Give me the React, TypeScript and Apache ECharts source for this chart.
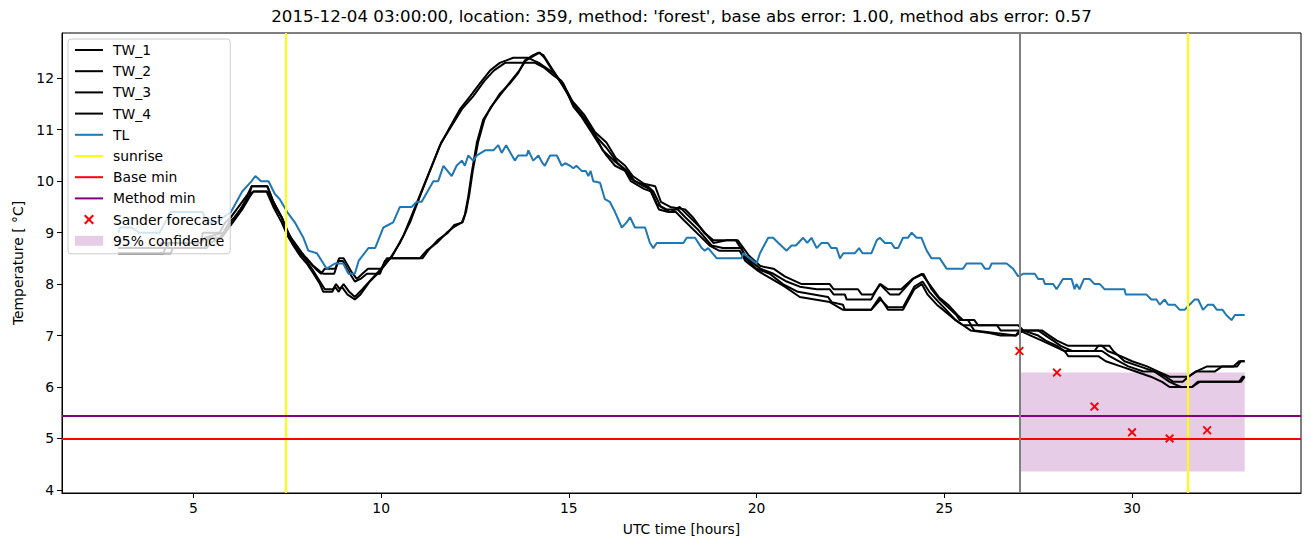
import React, { useEffect, useRef } from "react";
import * as echarts from "echarts";

const chartTitle =
  "2015-12-04 03:00:00, location: 359, method: 'forest', base abs error: 1.00, method abs error: 0.57";
const xTicks = [5, 10, 15, 20, 25, 30];
const yTicks = [4, 5, 6, 7, 8, 9, 10, 11, 12];

// [hour, temperature]
const tw1 = [
  [3.0, 8.6], [4.4, 8.6], [4.45, 8.7], [5.3, 8.7], [5.4, 8.9], [5.7, 8.9], [5.9, 9.1], [6.0, 9.2],
  [6.25, 9.45], [6.45, 9.7], [6.6, 9.8], [6.95, 9.8], [7.13, 9.5], [7.35, 9.2], [7.5, 8.95],
  [7.66, 8.75], [7.84, 8.55], [8.02, 8.4], [8.2, 8.2], [8.37, 8.0], [8.46, 7.85], [8.7, 7.85],
  [8.77, 7.95], [8.87, 7.85], [8.95, 7.95], [9.1, 7.8], [9.3, 7.7], [9.45, 7.8], [9.7, 8.05],
  [9.97, 8.25], [10.24, 8.5], [10.5, 8.8], [10.77, 9.2], [11.03, 9.7], [11.3, 10.2], [11.57, 10.7],
  [11.83, 11.05], [12.1, 11.4], [12.37, 11.65], [12.63, 11.9], [12.9, 12.15], [13.16, 12.3],
  [13.52, 12.4], [13.9, 12.4], [14.2, 12.3], [14.4, 12.2], [14.6, 12.1], [14.85, 11.9], [15.1, 11.5],
  [15.45, 11.2], [15.75, 10.85], [16.0, 10.65], [16.3, 10.35], [16.55, 10.2], [16.75, 10.0],
  [17.1, 9.9], [17.25, 9.8], [17.45, 9.5], [17.7, 9.4], [17.95, 9.5], [18.15, 9.35], [18.5, 9.1],
  [18.85, 8.8], [19.2, 8.85], [19.45, 8.85], [19.75, 8.5], [20.1, 8.3], [20.45, 8.2], [20.8, 8.05],
  [21.15, 7.95], [21.6, 7.9], [21.95, 7.9], [22.05, 7.8], [22.35, 7.8], [22.4, 7.7], [23.05, 7.7],
  [23.28, 8.0], [23.55, 7.8], [23.8, 7.8], [24.17, 8.1], [24.44, 8.2], [24.66, 7.9], [24.88, 7.7],
  [25.1, 7.55], [25.32, 7.4], [25.41, 7.3], [25.63, 7.3], [25.72, 7.2], [26.97, 7.2], [27.1, 7.1],
  [27.6, 7.1], [27.8, 7.0], [28.0, 6.9], [28.3, 6.8], [29.2, 6.8], [29.35, 6.7], [29.7, 6.6],
  [30.0, 6.5], [30.4, 6.4], [30.7, 6.3], [31.0, 6.2], [31.5, 6.2], [31.7, 6.3], [32.0, 6.4],
  [32.7, 6.4], [32.85, 6.5], [33.0, 6.5],
];
const tw2 = [
  [3.0, 8.7], [4.1, 8.7], [4.15, 8.8], [5.2, 8.8], [5.25, 9.0], [5.7, 9.0], [5.85, 9.2], [6.0, 9.3],
  [6.25, 9.55], [6.45, 9.75], [6.55, 9.9], [6.97, 9.9], [7.13, 9.6], [7.35, 9.3], [7.5, 9.0],
  [7.66, 8.8], [7.84, 8.6], [8.02, 8.45], [8.2, 8.25], [8.37, 8.05], [8.5, 7.9], [8.72, 7.9],
  [8.8, 8.0], [8.9, 7.9], [9.0, 8.0], [9.15, 7.85], [9.3, 7.75], [9.5, 7.9], [9.75, 8.1], [10.0, 8.3],
  [10.3, 8.55], [10.6, 8.95], [10.85, 9.4], [11.1, 9.85], [11.35, 10.3], [11.6, 10.75], [11.9, 11.1],
  [12.15, 11.4], [12.45, 11.65], [12.75, 11.95], [13.0, 12.15], [13.3, 12.3], [14.1, 12.3],
  [14.35, 12.2], [14.6, 12.05], [14.8, 11.95], [15.1, 11.55], [15.4, 11.3], [15.7, 10.95],
  [16.0, 10.75], [16.25, 10.45], [16.5, 10.3], [16.7, 10.1], [17.0, 9.95], [17.3, 9.9], [17.45, 9.6],
  [17.7, 9.5], [18.1, 9.45], [18.3, 9.3], [18.6, 9.0], [18.85, 8.85], [19.5, 8.85], [19.8, 8.55],
  [20.1, 8.35], [20.45, 8.3], [20.75, 8.15], [21.2, 8.0], [21.95, 8.0], [22.05, 7.9], [22.7, 7.9],
  [22.8, 7.8], [23.1, 7.8], [23.3, 8.0], [23.5, 7.9], [23.85, 7.9], [24.15, 8.1], [24.4, 8.2],
  [24.6, 8.0], [24.85, 7.75], [25.1, 7.6], [25.35, 7.4], [25.5, 7.3], [25.8, 7.3], [25.9, 7.2],
  [26.4, 7.2], [26.5, 7.1], [27.5, 7.1], [27.7, 7.0], [27.9, 6.9], [28.1, 6.8], [28.4, 6.7],
  [29.0, 6.7], [29.1, 6.8], [29.4, 6.8], [29.5, 6.7], [29.8, 6.5], [30.2, 6.4], [30.6, 6.3],
  [30.9, 6.2], [31.1, 6.1], [31.35, 6.1], [31.5, 6.2], [31.7, 6.3], [32.2, 6.3], [32.4, 6.4],
  [32.8, 6.4], [32.9, 6.5], [33.0, 6.5],
];
const tw3 = [
  [3.0, 8.6], [4.2, 8.6], [4.25, 8.7], [5.35, 8.7], [5.45, 8.8], [5.75, 8.9], [5.95, 9.1], [6.05, 9.2],
  [6.3, 9.45], [6.5, 9.7], [6.6, 9.8], [6.97, 9.8], [7.13, 9.55], [7.35, 9.3], [7.5, 9.05],
  [7.66, 8.8], [7.84, 8.6], [8.02, 8.5], [8.2, 8.35], [8.37, 8.25], [8.46, 8.2], [8.75, 8.2],
  [8.86, 8.45], [8.98, 8.45], [9.17, 8.2], [9.3, 8.05], [9.45, 8.1], [9.62, 8.2], [9.97, 8.2],
  [10.1, 8.45], [10.24, 8.5], [11.03, 8.5], [11.21, 8.65], [11.48, 8.8], [11.75, 9.0], [11.92, 9.1],
  [12.15, 9.2], [12.23, 9.35], [12.32, 9.7], [12.41, 10.15], [12.55, 10.75], [12.72, 11.2],
  [12.9, 11.4], [13.16, 11.7], [13.43, 11.9], [13.65, 12.1], [13.83, 12.35], [14.05, 12.45],
  [14.19, 12.5], [14.32, 12.45], [14.54, 12.2], [14.76, 11.95], [14.94, 11.75], [15.12, 11.45],
  [15.34, 11.25], [15.56, 11.0], [15.78, 10.75], [16.0, 10.5], [16.23, 10.3], [16.5, 10.2],
  [16.65, 10.0], [17.0, 9.85], [17.2, 9.8], [17.35, 9.55], [17.6, 9.45], [17.9, 9.45], [18.1, 9.3],
  [18.45, 9.05], [18.8, 8.75], [19.1, 8.7], [19.6, 8.7], [19.7, 8.5], [20.0, 8.3], [20.35, 8.2],
  [20.7, 8.0], [21.1, 7.85], [21.9, 7.75], [22.0, 7.65], [22.3, 7.6], [22.35, 7.5], [23.05, 7.5],
  [23.28, 7.75], [23.5, 7.5], [23.9, 7.5], [24.2, 7.9], [24.4, 8.0], [24.55, 7.8], [24.8, 7.6],
  [25.05, 7.45], [25.3, 7.3], [25.5, 7.2], [25.7, 7.2], [25.8, 7.1], [26.9, 7.0], [27.1, 7.1],
  [27.5, 7.0], [27.7, 6.9], [28.0, 6.8], [28.2, 6.7], [29.2, 6.7], [29.4, 6.6], [29.9, 6.4],
  [30.3, 6.3], [30.6, 6.3], [30.8, 6.2], [31.0, 6.1], [31.3, 6.0], [31.6, 6.0], [31.75, 6.1],
  [32.9, 6.1], [33.0, 6.2],
];
const tw4 = [
  [3.0, 8.7], [4.3, 8.7], [4.35, 8.8], [5.2, 8.8], [5.3, 8.9], [5.8, 9.0], [5.95, 9.2], [6.1, 9.3],
  [6.3, 9.5], [6.5, 9.75], [6.55, 9.9], [6.97, 9.9], [7.13, 9.6], [7.35, 9.3], [7.5, 9.0], [7.7, 8.8],
  [7.9, 8.6], [8.06, 8.45], [8.25, 8.3], [8.4, 8.2], [8.5, 8.3], [8.78, 8.3], [8.88, 8.5], [9.0, 8.5],
  [9.2, 8.25], [9.35, 8.1], [9.5, 8.2], [9.65, 8.3], [10.0, 8.3], [10.15, 8.5], [11.1, 8.5],
  [11.25, 8.65], [11.5, 8.85], [11.78, 9.0], [11.95, 9.15], [12.17, 9.2], [12.26, 9.4], [12.35, 9.75],
  [12.44, 10.2], [12.58, 10.75], [12.75, 11.2], [12.93, 11.45], [13.2, 11.7], [13.46, 11.95],
  [13.68, 12.15], [13.86, 12.35], [14.1, 12.45], [14.22, 12.5], [14.35, 12.4], [14.56, 12.15],
  [14.8, 11.9], [15.0, 11.65], [15.2, 11.4], [15.45, 11.15], [15.7, 10.9], [15.9, 10.6], [16.2, 10.4],
  [16.45, 10.25], [16.65, 10.05], [17.0, 9.9], [17.15, 9.85], [17.4, 9.45], [17.65, 9.4],
  [17.85, 9.4], [18.05, 9.25], [18.4, 9.0], [18.75, 8.75], [19.0, 8.65], [19.55, 8.65], [19.7, 8.45],
  [20.05, 8.25], [20.4, 8.1], [20.75, 7.95], [21.15, 7.75], [21.95, 7.65], [22.3, 7.5], [23.05, 7.5],
  [23.3, 7.7], [23.5, 7.55], [23.9, 7.55], [24.2, 7.95], [24.42, 8.05], [24.6, 7.85], [24.85, 7.65],
  [25.05, 7.5], [25.3, 7.3], [25.5, 7.2], [25.7, 7.1], [26.2, 7.05], [26.5, 7.0], [26.9, 7.0],
  [27.0, 7.1], [27.3, 7.0], [27.6, 6.9], [27.9, 6.8], [28.2, 6.7], [28.3, 6.6], [29.1, 6.6],
  [29.3, 6.5], [29.7, 6.4], [30.1, 6.3], [30.5, 6.2], [30.8, 6.1], [31.0, 6.0], [31.6, 6.0],
  [31.8, 6.1], [32.85, 6.1], [32.95, 6.2], [33.0, 6.2],
];
const tl = [
  [3.0, 9.0], [3.05, 9.1], [3.35, 9.1], [3.55, 9.0], [4.1, 9.0], [4.4, 9.4], [5.25, 9.4], [5.35, 9.2],
  [5.6, 9.2], [6.0, 9.4], [6.3, 9.8], [6.55, 10.0], [6.65, 10.1], [6.8, 10.0], [7.0, 10.0],
  [7.17, 9.75], [7.3, 9.65], [7.5, 9.4], [7.7, 9.2], [7.93, 8.9], [8.06, 8.65], [8.29, 8.6],
  [8.55, 8.3], [8.77, 8.4], [8.99, 8.4], [9.13, 8.2], [9.3, 8.2], [9.4, 8.45], [9.66, 8.7],
  [9.84, 8.7], [10.06, 9.1], [10.32, 9.2], [10.5, 9.5], [10.81, 9.5], [10.95, 9.6], [11.08, 9.6],
  [11.39, 10.0], [11.52, 10.0], [11.66, 10.3], [11.88, 10.1], [12.01, 10.3], [12.15, 10.4],
  [12.23, 10.3], [12.32, 10.5], [12.45, 10.4], [12.55, 10.5], [12.77, 10.6], [12.99, 10.6],
  [13.12, 10.7], [13.21, 10.55], [13.33, 10.7], [13.56, 10.4], [13.65, 10.5], [13.88, 10.5],
  [13.92, 10.6], [14.05, 10.4], [14.19, 10.5], [14.3, 10.35], [14.36, 10.3], [14.5, 10.5],
  [14.68, 10.5], [14.81, 10.3], [14.9, 10.35], [15.03, 10.3], [15.12, 10.25], [15.2, 10.3],
  [15.34, 10.2], [15.45, 10.2], [15.52, 10.1], [15.58, 10.2], [15.65, 10.0], [15.83, 9.97],
  [15.96, 9.65], [16.09, 9.6], [16.23, 9.4], [16.41, 9.1], [16.54, 9.2], [16.63, 9.3], [16.76, 9.1],
  [17.03, 9.1], [17.16, 8.8], [17.25, 8.7], [17.34, 8.8], [18.05, 8.8], [18.14, 8.9], [18.36, 8.9],
  [18.54, 8.7], [18.62, 8.65], [18.71, 8.7], [18.94, 8.5], [19.6, 8.5], [19.64, 8.6], [19.82, 8.5],
  [20.0, 8.4], [20.09, 8.6], [20.31, 8.9], [20.44, 8.9], [20.58, 8.8], [20.8, 8.65], [20.93, 8.75],
  [21.05, 8.75], [21.24, 8.9], [21.35, 8.8], [21.46, 8.9], [21.6, 8.7], [21.73, 8.8], [21.9, 8.8],
  [21.99, 8.7], [22.13, 8.7], [22.22, 8.5], [22.31, 8.6], [22.62, 8.6], [22.73, 8.7], [22.82, 8.6],
  [23.06, 8.6], [23.2, 8.85], [23.28, 8.9], [23.42, 8.8], [23.59, 8.8], [23.68, 8.7], [23.77, 8.7],
  [23.9, 8.9], [24.03, 8.9], [24.13, 9.0], [24.26, 8.9], [24.39, 8.9], [24.53, 8.65], [24.66, 8.5],
  [24.88, 8.5], [25.06, 8.3], [25.5, 8.3], [25.59, 8.4], [25.99, 8.4], [26.08, 8.3], [26.2, 8.3],
  [26.26, 8.4], [26.66, 8.4], [26.83, 8.3], [26.97, 8.15], [27.1, 8.2], [27.41, 8.2], [27.5, 8.1],
  [27.63, 8.1], [27.68, 8.0], [27.9, 8.0], [27.99, 7.9], [28.16, 8.1], [28.39, 8.1], [28.47, 7.9],
  [28.52, 8.0], [28.6, 7.9], [28.72, 8.1], [28.87, 8.1], [29.0, 8.0], [29.14, 8.0], [29.27, 7.9],
  [29.8, 7.9], [29.83, 7.8], [30.38, 7.8], [30.51, 7.7], [30.65, 7.7], [30.74, 7.6], [30.87, 7.7],
  [30.96, 7.6], [31.14, 7.6], [31.27, 7.5], [31.4, 7.5], [31.53, 7.6], [31.67, 7.7], [31.76, 7.7],
  [31.89, 7.5], [32.02, 7.6], [32.16, 7.6], [32.26, 7.5], [32.41, 7.5], [32.51, 7.4], [32.65, 7.3],
  [32.74, 7.4], [33.0, 7.4],
];

const sunriseHours = [7.47, 31.48];
const forecastStartHour = 27;
const baseMin = 5.0;
const methodMin = 5.45;
const sanderHours = [27, 28, 29, 30, 31, 32];
const sanderTemps = [6.7, 6.28, 5.62, 5.12, 5.0, 5.16];
const confidenceHours = [27, 33];
const confidenceTemps = [4.36, 6.28];

const FONT = "DejaVu Sans";
const FS = 13.89;
const X_PATH =
  "path://M0,1.5L1.5,0L5,3.5L8.5,0L10,1.5L6.5,5L10,8.5L8.5,10L5,6.5L1.5,10L0,8.5L3.5,5Z";

function lineSeries(name: string, data: number[][], color: string) {
  return {
    name,
    type: "line",
    data,
    symbol: "none",
    showSymbol: false,
    lineStyle: { color, width: 2 },
    itemStyle: { color },
    z: 3,
  };
}

function markSeries(name: string, color: string, lines: any[]) {
  return {
    name,
    type: "line",
    data: [],
    symbol: "none",
    lineStyle: { color, width: 2 },
    itemStyle: { color },
    z: 4,
    markLine: {
      silent: true,
      symbol: "none",
      label: { show: false },
      lineStyle: { color, width: 2, type: "solid" },
      emphasis: { disabled: true },
      data: lines,
    },
  };
}

export default function App() {
  const ref = useRef<HTMLDivElement>(null);
  useEffect(() => {
    document.body.style.margin = "0";
    const chart = echarts.init(ref.current!, null, { renderer: "svg" });
    const lineLegendNames = [
      "TW_1", "TW_2", "TW_3", "TW_4", "TL", "sunrise", "Base min", "Method min",
    ];
    chart.setOption({
      animation: false,
      textStyle: { fontFamily: FONT },
      title: {
        text: chartTitle,
        left: 681.5,
        top: 8,
        padding: 0,
        textAlign: "center",
        textStyle: { fontFamily: FONT, fontSize: 16.67, fontWeight: "normal", color: "#000" },
      },
      grid: {
        left: 62,
        right: 10,
        top: 33,
        bottom: 54,
        show: true,
        borderColor: "#000",
        borderWidth: 1,
      },
      legend: {
        left: 68,
        top: 39,
        orient: "vertical",
        itemWidth: 28,
        itemHeight: 10,
        itemGap: 5.2,
        padding: [3, 6, 5, 6],
        backgroundColor: "rgba(255,255,255,0.8)",
        borderColor: "#cccccc",
        borderWidth: 1,
        borderRadius: 3,
        selectedMode: false,
        itemStyle: { opacity: 0 },
        textStyle: {
          fontFamily: FONT,
          fontSize: FS,
          color: "#000",
          lineHeight: 16,
          padding: [0, 0, 0, 5],
        },
        data: [
          ...lineLegendNames.map((n) => ({ name: n })),
          { name: "Sander forecast", itemStyle: { opacity: 1 } },
          { name: "95% confidence", icon: "rect", itemStyle: { opacity: 1 } },
        ],
      },
      xAxis: {
        type: "value",
        min: 1.5,
        max: 34.5,
        name: "UTC time [hours]",
        nameLocation: "middle",
        nameGap: 29,
        nameTextStyle: { fontFamily: FONT, fontSize: FS, color: "#000" },
        splitLine: { show: false },
        axisLine: { show: true, onZero: false, lineStyle: { color: "#000", width: 1 } },
        axisTick: { show: true, length: 5, lineStyle: { color: "#000" }, customValues: xTicks },
        axisLabel: { customValues: xTicks, color: "#000", fontSize: FS, fontFamily: FONT, margin: 8 },
      },
      yAxis: {
        type: "value",
        min: 3.94,
        max: 12.88,
        name: "Temperature [ °C]",
        nameLocation: "middle",
        nameGap: 37,
        nameRotate: 90,
        nameTextStyle: { fontFamily: FONT, fontSize: FS, color: "#000" },
        splitLine: { show: false },
        axisLine: { show: true, onZero: false, lineStyle: { color: "#000", width: 1 } },
        axisTick: { show: true, length: 5, lineStyle: { color: "#000" }, customValues: yTicks },
        axisLabel: { customValues: yTicks, color: "#000", fontSize: FS, fontFamily: FONT, margin: 8 },
      },
      series: [
        {
          name: "95% confidence",
          type: "custom",
          z: 1,
          itemStyle: { color: "rgba(128,0,128,0.2)" },
          data: [[confidenceHours[0], confidenceHours[1], confidenceTemps[0], confidenceTemps[1]]],
          encode: { x: [0, 1], y: [2, 3] },
          renderItem: (params: any, api: any) => {
            const p0 = api.coord([api.value(0), api.value(3)]);
            const p1 = api.coord([api.value(1), api.value(2)]);
            return {
              type: "rect",
              shape: { x: p0[0], y: p0[1], width: p1[0] - p0[0], height: p1[1] - p0[1] },
              style: { fill: "rgba(128,0,128,0.2)" },
            };
          },
        },
        lineSeries("TW_1", tw1, "#000000"),
        lineSeries("TW_2", tw2, "#000000"),
        lineSeries("TW_3", tw3, "#000000"),
        lineSeries("TW_4", tw4, "#000000"),
        lineSeries("TL", tl, "#1f77b4"),
        markSeries("sunrise", "#ffff00", sunriseHours.map((h) => ({ xAxis: h }))),
        markSeries("Base min", "#ff0000", [{ yAxis: baseMin }]),
        markSeries("Method min", "#800080", [{ yAxis: methodMin }]),
        {
          name: "Sander forecast",
          type: "scatter",
          symbol: X_PATH,
          symbolSize: 9,
          symbolKeepAspect: true,
          itemStyle: { color: "#ff0000", opacity: 1 },
          z: 5,
          data: sanderHours.map((h, i) => [h, sanderTemps[i]]),
        },
        markSeries("forecast start", "#808080", [{ xAxis: forecastStartHour }]),
      ],
    });
    return () => chart.dispose();
  }, []);
  return (
    <div
      ref={ref}
      style={{ position: "absolute", left: 0, top: 0, width: 1311, height: 547 }}
    />
  );
}
